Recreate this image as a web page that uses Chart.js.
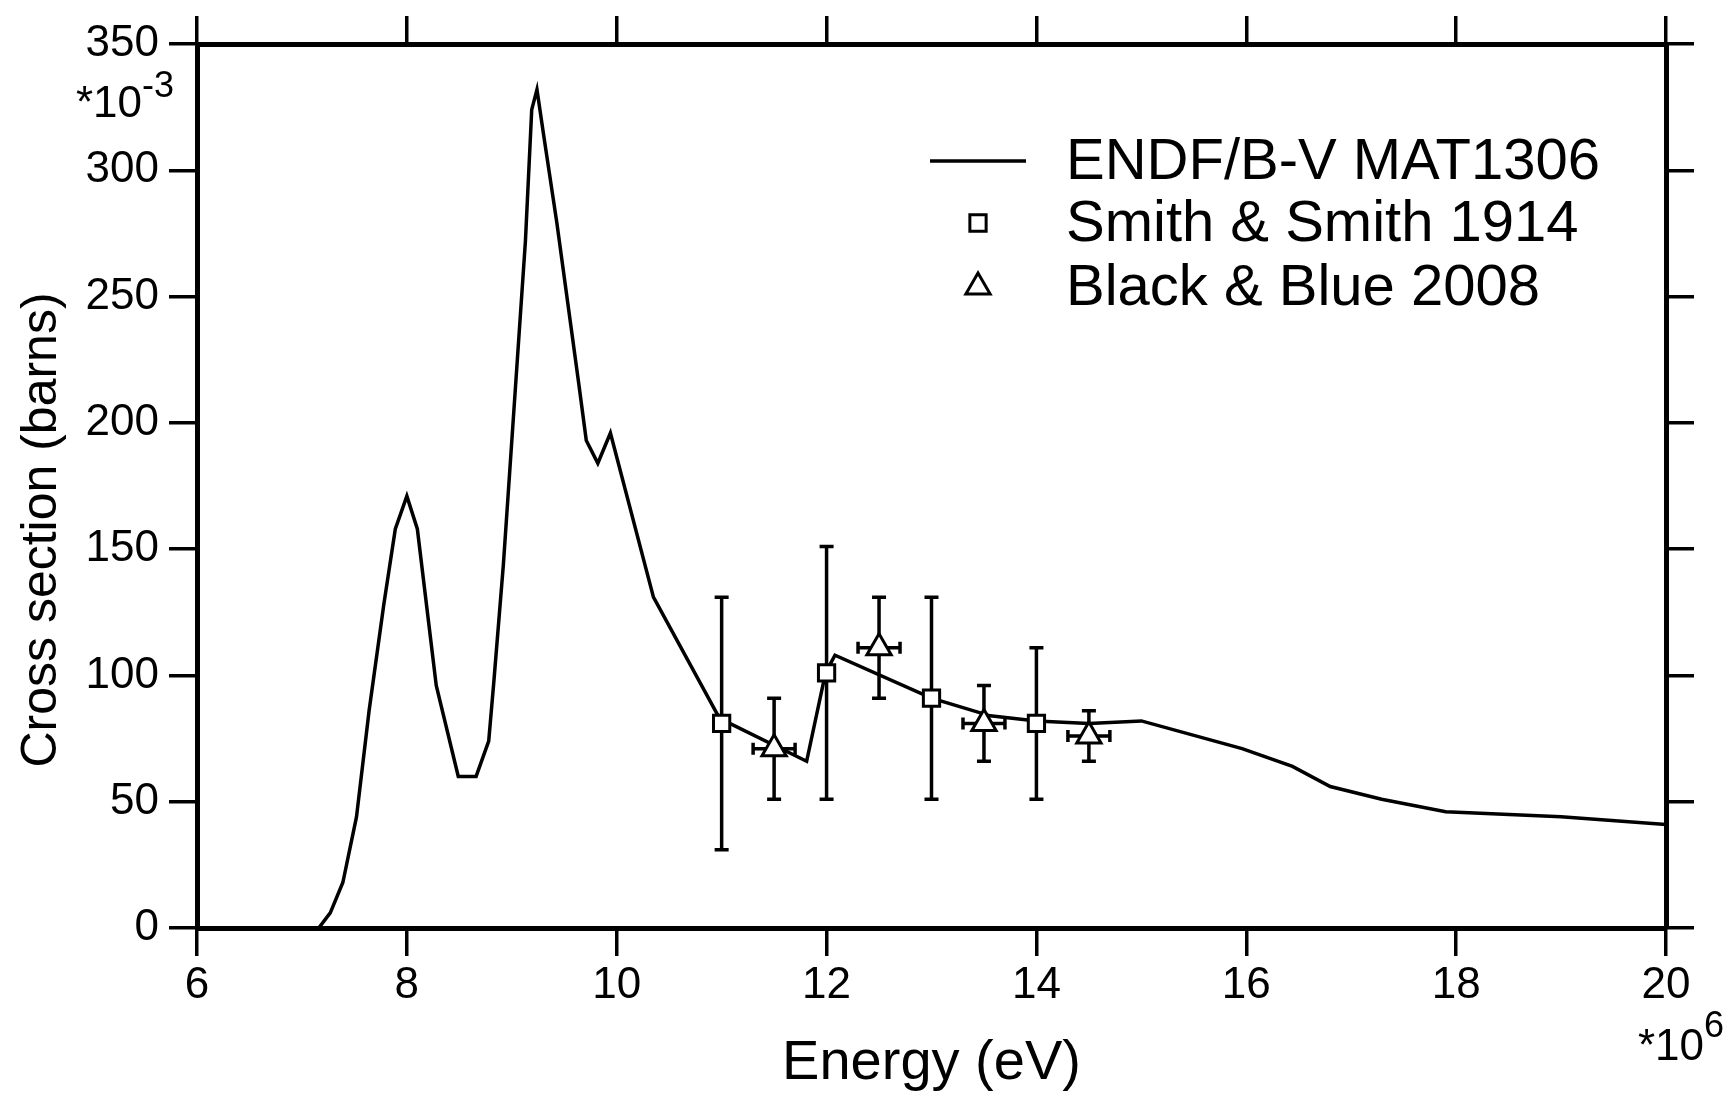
<!DOCTYPE html>
<html lang="en">
<head>
<meta charset="UTF-8">
<title>Cross section vs energy</title>
<style>
  * { margin: 0; padding: 0; box-sizing: border-box; }
  body { background: #fff; width: 1736px; height: 1098px; overflow: hidden; }
  #wrap { position: relative; width: 1736px; height: 1098px; }
</style>
</head>
<body>
<div id="wrap"><canvas id="xsChart" width="1736" height="1098"></canvas></div>

<script src="https://cdn.jsdelivr.net/npm/chart.js"></script>
<script>
const FONT = "'Liberation Sans', Arial, Helvetica, sans-serif";

// evaluated curve: energy in 1e6 eV, cross section in 1e-3 barns
const endfEnergy = [6.0, 7.16, 7.27, 7.39, 7.52, 7.64, 7.78, 7.89, 8.0, 8.10, 8.19, 8.28, 8.49, 8.66, 8.78, 8.83, 8.92,
  9.13, 9.19, 9.24, 9.30, 9.43, 9.64, 9.71, 9.82, 9.94, 10.35, 10.98, 11.81, 11.99, 12.08,
  13.0, 13.56, 14.0, 14.5, 15.0, 15.96, 16.44, 16.80, 17.29, 17.90, 19.0, 20.0];
const endfXs = [0, 0, 6, 18, 44, 86, 128, 158, 171, 158, 127, 96, 60, 60, 74, 98, 144,
  272, 324, 332, 315, 279, 215, 193, 184, 196, 131, 83, 66, 101, 108,
  91, 84, 82, 81, 82, 71, 64, 56, 51, 46, 44, 41];

// Smith & Smith 1914
const smithEnergy = [11, 12, 13, 14];
const smithXs = [81, 101, 91, 81];
const smithErr = [50, 50, 40, 30];

// Black & Blue 2008
const blackEnergy = [11.5, 12.5, 13.5, 14.5];
const blackXs = [71, 111, 81, 76];
const blackErr = [20, 20, 15, 10];
const blackErrE = [0.2, 0.2, 0.2, 0.2];

const xTicks = [6, 8, 10, 12, 14, 16, 18, 20];
const yTicks = [0, 50, 100, 150, 200, 250, 300, 350];
const legendLabels = ['ENDF/B-V MAT1306', 'Smith & Smith 1914', 'Black & Blue 2008'];

const toPoints = (xs, ys) => xs.map((x, i) => ({ x: x, y: ys[i] }));

// error bars, drawn under the markers
const errorBars = {
  id: 'errorBars',
  beforeDatasetsDraw(chart) {
    const ctx = chart.ctx;
    const x = chart.scales.x, y = chart.scales.y;
    ctx.save();
    ctx.strokeStyle = '#000';
    ctx.lineWidth = 3.5;
    const cap = 7;
    function vbar(e, v, d) {
      const px = x.getPixelForValue(e);
      const t = y.getPixelForValue(v + d), b = y.getPixelForValue(v - d);
      ctx.beginPath();
      ctx.moveTo(px, t); ctx.lineTo(px, b);
      ctx.moveTo(px - cap, t); ctx.lineTo(px + cap, t);
      ctx.moveTo(px - cap, b); ctx.lineTo(px + cap, b);
      ctx.stroke();
    }
    function hbar(e, v, d) {
      const py = y.getPixelForValue(v);
      const l = x.getPixelForValue(e - d), r = x.getPixelForValue(e + d);
      ctx.beginPath();
      ctx.moveTo(l, py); ctx.lineTo(r, py);
      ctx.moveTo(l, py - 6); ctx.lineTo(l, py + 6);
      ctx.moveTo(r, py - 6); ctx.lineTo(r, py + 6);
      ctx.stroke();
    }
    smithEnergy.forEach((e, i) => vbar(e, smithXs[i], smithErr[i]));
    blackEnergy.forEach((e, i) => {
      vbar(e, blackXs[i], blackErr[i]);
      hbar(e, blackXs[i], blackErrE[i]);
    });
    ctx.restore();
  }
};

// legend in the upper right of the plot
const legendBox = {
  id: 'legendBox',
  afterDraw(chart) {
    const ctx = chart.ctx;
    const ds = chart.data.datasets;
    const rows = [161, 223, 287];
    const mx = 978;
    ctx.save();
    ctx.strokeStyle = '#000';
    ctx.fillStyle = '#fff';
    ctx.lineWidth = 3.5;
    ctx.beginPath();
    ctx.moveTo(930, rows[0]); ctx.lineTo(1026, rows[0]);
    ctx.stroke();
    [1, 2].forEach(k => {
      const opts = { pointStyle: ds[k].pointStyle, radius: ds[k].pointRadius, borderWidth: 3, rotation: 0 };
      ctx.fillStyle = '#fff';
      ctx.strokeStyle = '#000';
      ctx.lineWidth = 3;
      Chart.helpers.drawPoint(ctx, opts, mx, rows[k]);
    });
    ctx.fillStyle = '#000';
    ctx.font = '58px ' + FONT;
    ctx.textAlign = 'left';
    ctx.textBaseline = 'middle';
    legendLabels.forEach((t, i) => ctx.fillText(t, 1066, rows[i] + 2));
    ctx.restore();
  }
};

// axis titles and the exponent notes
const axisText = {
  id: 'axisText',
  afterDraw(chart) {
    const ctx = chart.ctx;
    const area = chart.chartArea;
    ctx.save();
    ctx.fillStyle = '#000';
    ctx.textBaseline = 'alphabetic';

    ctx.font = '56px ' + FONT;
    ctx.textAlign = 'center';
    ctx.fillText('Energy (eV)', (area.left + area.right) / 2, 1079);

    ctx.save();
    ctx.translate(56, 530);
    ctx.rotate(-Math.PI / 2);
    ctx.font = '50px ' + FONT;
    ctx.fillText('Cross section (barns)', 0, 0);
    ctx.restore();

    ctx.textAlign = 'left';
    ctx.font = '44px ' + FONT;
    ctx.fillText('*10', 76, 117);
    let w = ctx.measureText('*10').width;
    ctx.font = '36px ' + FONT;
    ctx.fillText('-3', 76 + w, 97);

    ctx.font = '44px ' + FONT;
    ctx.fillText('*10', 1638, 1060);
    w = ctx.measureText('*10').width;
    ctx.font = '36px ' + FONT;
    ctx.fillText('6', 1638 + w, 1037);
    ctx.restore();
  }
};

const gridOpts = {
  drawOnChartArea: false,
  drawTicks: true,
  tickLength: 28,
  color: '#000',
  lineWidth: 3.5,
  tickColor: '#000',
  tickWidth: 3.5
};
const borderOpts = { display: true, color: '#000', width: 5 };
const tickFont = { family: FONT, size: 44 };

const setX = s => { s.ticks = xTicks.map(v => ({ value: v })); };
const setY = s => { s.ticks = yTicks.map(v => ({ value: v })); };

const chart = new Chart(document.getElementById('xsChart').getContext('2d'), {
  type: 'scatter',
  data: {
    datasets: [
      {
        label: legendLabels[0],
        data: toPoints(endfEnergy, endfXs),
        showLine: true,
        borderColor: '#000',
        borderWidth: 3.5,
        pointRadius: 0,
        tension: 0,
        order: 3
      },
      {
        label: legendLabels[1],
        data: toPoints(smithEnergy, smithXs),
        pointStyle: 'rect',
        pointRadius: 11.5,
        pointBackgroundColor: '#fff',
        pointBorderColor: '#000',
        pointBorderWidth: 3,
        order: 1
      },
      {
        label: legendLabels[2],
        data: toPoints(blackEnergy, blackXs),
        pointStyle: 'triangle',
        pointRadius: 14,
        pointBackgroundColor: '#fff',
        pointBorderColor: '#000',
        pointBorderWidth: 3,
        order: 2
      }
    ]
  },
  options: {
    responsive: false,
    animation: false,
    devicePixelRatio: 1,
    layout: { padding: 0, autoPadding: false },
    plugins: {
      legend: { display: false },
      tooltip: { enabled: false }
    },
    scales: {
      x: {
        type: 'linear', axis: 'x', position: 'bottom', min: 6, max: 20,
        afterBuildTicks: setX,
        afterFit: s => { s.height = 170; },
        grid: gridOpts, border: borderOpts,
        ticks: { font: tickFont, color: '#000', padding: 3, maxRotation: 0, autoSkip: false }
      },
      x2: {
        type: 'linear', axis: 'x', position: 'top', min: 6, max: 20,
        afterBuildTicks: setX,
        afterFit: s => { s.height = 44; },
        grid: gridOpts, border: borderOpts,
        ticks: { display: false }
      },
      y: {
        type: 'linear', axis: 'y', position: 'left', min: 0, max: 350,
        afterBuildTicks: setY,
        afterFit: s => { s.width = 197; },
        grid: gridOpts, border: borderOpts,
        ticks: { font: tickFont, color: '#000', padding: 10, autoSkip: false }
      },
      y2: {
        type: 'linear', axis: 'y', position: 'right', min: 0, max: 350,
        afterBuildTicks: setY,
        afterFit: s => { s.width = 70; },
        grid: gridOpts, border: borderOpts,
        ticks: { display: false }
      }
    }
  },
  plugins: [errorBars, legendBox, axisText]
});
</script>
</body>
</html>
